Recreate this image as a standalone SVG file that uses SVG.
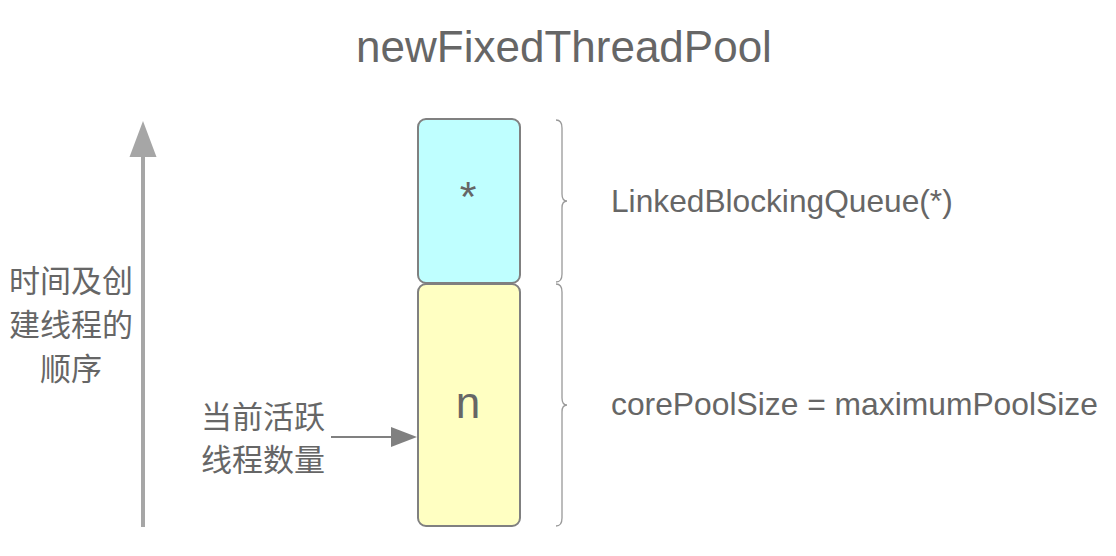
<svg xmlns="http://www.w3.org/2000/svg" width="1116" height="556" viewBox="0 0 1116 556">
<style>
.t{font-family:"Liberation Sans",Arial,sans-serif;fill:#666666}
.c{font-family:"Liberation Sans","Noto Sans CJK SC",sans-serif;fill:#666666;font-size:31px}
.box{stroke:#808080;stroke-width:2}
.brace{fill:none;stroke:#999999;stroke-width:1.3}
</style>
<rect width="1116" height="556" fill="#ffffff"/>
<text class="t" x="564" y="62" font-size="44" text-anchor="middle">newFixedThreadPool</text>
<g id="queue">
<rect class="box" x="418" y="119" width="102" height="164" rx="8" fill="#bfffff"/>
<text class="t" x="468" y="211" font-size="43" text-anchor="middle">*</text>
</g>
<g id="core">
<rect class="box" x="418" y="284" width="102" height="242" rx="8" fill="#ffffc2"/>
<text class="t" x="468" y="418" font-size="44" text-anchor="middle">n</text>
</g>
<g id="brace-queue">
<path class="brace" d="M556,120 Q562,120 562,128 L562,194 Q562,201 567,201 Q562,201 562,208 L562,274 Q562,282 556,282"/>
<text class="t" x="611" y="212" font-size="31.7">LinkedBlockingQueue(*)</text>
</g>
<g id="brace-core">
<path class="brace" d="M556,284 Q562,284 562,292 L562,398 Q562,405 567,405 Q562,405 562,412 L562,518 Q562,526 556,526"/>
<text class="t" x="611" y="415" font-size="31.8">corePoolSize = maximumPoolSize</text>
</g>
<g id="time-label">
<text class="c" x="71" y="292" text-anchor="middle">时间及创</text>
<text class="c" x="71" y="336" text-anchor="middle">建线程的</text>
<text class="c" x="71" y="380" text-anchor="middle">顺序</text>
</g>
<g id="active-label">
<text class="c" x="263" y="428" text-anchor="middle">当前活跃</text>
<text class="c" x="263" y="471" text-anchor="middle">线程数量</text>
</g>
<g id="connectors">
<line x1="143" y1="527" x2="143" y2="150" stroke="#a6a6a6" stroke-width="4"/>
<polygon points="143,121 129.5,157 156.5,157" fill="#a6a6a6"/>
<line x1="331" y1="437" x2="395" y2="437" stroke="#808080" stroke-width="2"/>
<polygon points="417,437 391,427 391,447" fill="#808080"/>
</g>
</svg>
